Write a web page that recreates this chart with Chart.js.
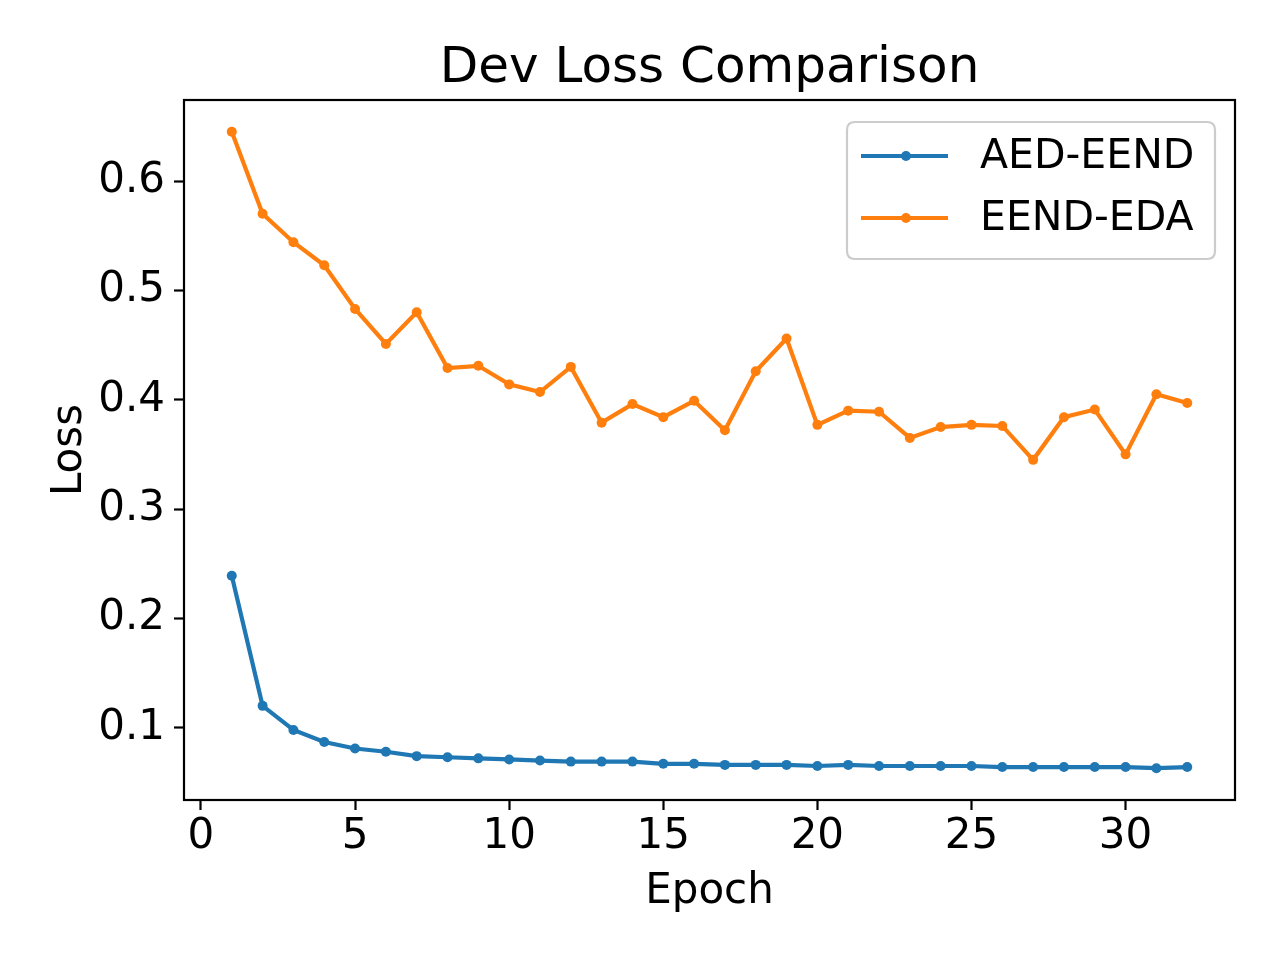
<!DOCTYPE html>
<html>
<head>
<meta charset="utf-8">
<script src="https://cdn.jsdelivr.net/npm/chart.js@4.4.1/dist/chart.umd.min.js"></script>
<style>
  html, body { margin: 0; padding: 0; background: #ffffff; }
  #wrap { width: 1280px; height: 960px; }
</style>
</head>
<body>
<div id="wrap"><canvas id="c" width="1280" height="960"></canvas></div>
<script>
const epochs = [1,2,3,4,5,6,7,8,9,10,11,12,13,14,15,16,17,18,19,20,21,22,23,24,25,26,27,28,29,30,31,32];
const aedEend = [0.239,0.120,0.098,0.087,0.081,0.078,0.074,0.073,0.072,0.071,0.070,0.069,0.069,0.069,0.067,0.067,0.066,0.066,0.066,0.065,0.066,0.065,0.065,0.065,0.065,0.064,0.064,0.064,0.064,0.064,0.063,0.064];
const eendEda = [0.645,0.570,0.544,0.523,0.483,0.451,0.480,0.429,0.431,0.414,0.407,0.430,0.379,0.396,0.384,0.399,0.372,0.426,0.456,0.377,0.390,0.389,0.365,0.375,0.377,0.376,0.345,0.384,0.391,0.350,0.405,0.397];
const seriesLabels = ["AED-EEND", "EEND-EDA"];
const xTicks = [0,5,10,15,20,25,30];
const yTicks = [0.1,0.2,0.3,0.4,0.5,0.6];
const chartTitle = "Dev Loss Comparison";
const xTitle = "Epoch";
const yTitle = "Loss";

const FONT = "'DejaVu Sans', 'Liberation Sans', sans-serif";
const BLUE = "#1f77b4", ORANGE = "#ff7f0e";

// matplotlib-like 5% margins
const allY = aedEend.concat(eendEda);
const yMinD = Math.min(...allY), yMaxD = Math.max(...allY);
const yPad = (yMaxD - yMinD) * 0.05;
const xMinD = Math.min(...epochs), xMaxD = Math.max(...epochs);
const xPad = (xMaxD - xMinD) * 0.05;

const framePlugin = {
  id: 'frame',
  afterDraw(chart) {
    const ctx = chart.ctx;
    const a = chart.chartArea;
    ctx.save();
    ctx.strokeStyle = '#000';
    ctx.lineWidth = 2.2;
    ctx.lineJoin = 'miter';
    ctx.strokeRect(a.left, a.top, a.right - a.left, a.bottom - a.top);

    // legend (upper right, matplotlib style)
    const bw = 368, bh = 137;
    const bx = a.right - 20 - bw, by = a.top + 22;
    const r = 8;
    ctx.beginPath();
    ctx.moveTo(bx + r, by);
    ctx.lineTo(bx + bw - r, by);
    ctx.quadraticCurveTo(bx + bw, by, bx + bw, by + r);
    ctx.lineTo(bx + bw, by + bh - r);
    ctx.quadraticCurveTo(bx + bw, by + bh, bx + bw - r, by + bh);
    ctx.lineTo(bx + r, by + bh);
    ctx.quadraticCurveTo(bx, by + bh, bx, by + bh - r);
    ctx.lineTo(bx, by + r);
    ctx.quadraticCurveTo(bx, by, bx + r, by);
    ctx.closePath();
    ctx.fillStyle = 'rgba(255,255,255,0.8)';
    ctx.fill();
    ctx.strokeStyle = '#cccccc';
    ctx.lineWidth = 2.2;
    ctx.stroke();

    chart.data.datasets.forEach((ds, i) => {
      const ly = by + 34 + i * 62;
      ctx.strokeStyle = ds.borderColor;
      ctx.lineWidth = 4.2;
      ctx.lineCap = 'butt';
      ctx.beginPath();
      ctx.moveTo(bx + 14, ly);
      ctx.lineTo(bx + 101, ly);
      ctx.stroke();
      ctx.fillStyle = ds.borderColor;
      ctx.beginPath();
      ctx.arc(bx + 59, ly, 5, 0, Math.PI * 2);
      ctx.fill();
      ctx.fillStyle = '#000';
      ctx.font = "41px " + FONT;
      ctx.textAlign = 'left';
      ctx.textBaseline = 'middle';
      ctx.fillText(ds.label, bx + 133, ly + 1);
    });
    ctx.restore();
  }
};

new Chart(document.getElementById('c'), {
  type: 'line',
  data: {
    datasets: [
      {
        label: seriesLabels[0],
        data: epochs.map((e, i) => ({x: e, y: aedEend[i]})),
        borderColor: BLUE, backgroundColor: BLUE,
        borderWidth: 4.2, pointRadius: 5, pointBorderWidth: 0,
        pointBackgroundColor: BLUE, tension: 0, fill: false
      },
      {
        label: seriesLabels[1],
        data: epochs.map((e, i) => ({x: e, y: eendEda[i]})),
        borderColor: ORANGE, backgroundColor: ORANGE,
        borderWidth: 4.2, pointRadius: 5, pointBorderWidth: 0,
        pointBackgroundColor: ORANGE, tension: 0, fill: false
      }
    ]
  },
  options: {
    responsive: false,
    devicePixelRatio: 1,
    animation: false,
    layout: { padding: { left: 0, right: 45, top: 0, bottom: 0 } },
    plugins: {
      legend: { display: false },
      tooltip: { enabled: false },
      title: {
        display: true,
        text: chartTitle,
        fullSize: false,
        color: '#000',
        font: { family: FONT, size: 50, weight: 'normal', lineHeight: 1.2 },
        padding: { top: 39, bottom: 1 }
      }
    },
    scales: {
      x: {
        type: 'linear',
        min: xMinD - xPad,
        max: xMaxD + xPad,
        afterBuildTicks: (s) => { s.ticks = xTicks.map(v => ({value: v})); },
        afterFit: (s) => { s.height = 160; },
        border: { display: false },
        grid: { display: true, drawOnChartArea: false, drawTicks: true, tickLength: 10, tickWidth: 2.2, tickColor: '#000', color: '#000' },
        ticks: { color: '#000', font: { family: FONT, size: 42 }, padding: 2, autoSkip: false, maxRotation: 0,
                 callback: (v) => String(v) },
        title: { display: true, text: xTitle, color: '#000', font: { family: FONT, size: 42, lineHeight: 1.2 }, padding: { top: 0, bottom: 43 } }
      },
      y: {
        type: 'linear',
        min: yMinD - yPad,
        max: yMaxD + yPad,
        afterBuildTicks: (s) => { s.ticks = yTicks.map(v => ({value: v})); },
        afterFit: (s) => { s.width = 184; },
        border: { display: false },
        grid: { display: true, drawOnChartArea: false, drawTicks: true, tickLength: 10, tickWidth: 2.2, tickColor: '#000', color: '#000' },
        ticks: { color: '#000', font: { family: FONT, size: 42 }, padding: 9, autoSkip: false,
                 callback: (v) => Number(v).toFixed(1) },
        title: { display: true, text: yTitle, color: '#000', font: { family: FONT, size: 42, lineHeight: 1.2 }, padding: { top: 45, bottom: 0 } }
      }
    }
  },
  plugins: [framePlugin]
});
</script>
</body>
</html>
